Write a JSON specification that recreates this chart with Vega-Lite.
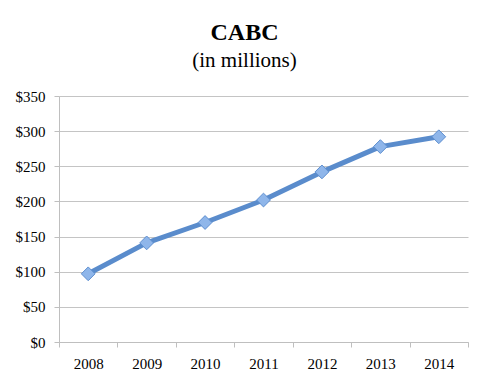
{
  "$schema": "https://vega.github.io/schema/vega-lite/v6.json",
  "width": 409,
  "height": 246,
  "autosize": {"type": "none"},
  "padding": {"left": 59, "top": 96, "right": 23, "bottom": 40},
  "background": "white",
  "title": {
    "text": "CABC",
    "subtitle": "(in millions)",
    "font": "Liberation Serif",
    "fontSize": 24,
    "fontWeight": "bold",
    "color": "black",
    "subtitleFont": "Liberation Serif",
    "subtitleFontSize": 21,
    "subtitleColor": "black",
    "subtitlePadding": 5,
    "anchor": "middle",
    "frame": "group",
    "dx": -19,
    "offset": 18
  },
  "data": {
    "values": [
      {"year": "2008", "value": 97},
      {"year": "2009", "value": 141},
      {"year": "2010", "value": 170},
      {"year": "2011", "value": 202},
      {"year": "2012", "value": 242},
      {"year": "2013", "value": 278},
      {"year": "2014", "value": 292}
    ]
  },
  "config": {
    "view": {"stroke": null},
    "axis": {
      "labelFont": "Liberation Serif",
      "labelFontSize": 15,
      "labelColor": "black",
      "domainColor": "#bfbfbf",
      "tickColor": "#bfbfbf",
      "gridColor": "#c4c4c4",
      "gridWidth": 1.2,
      "tickSize": 5,
      "labelPadding": 9,
      "title": null
    }
  },
  "encoding": {
    "x": {
      "field": "year",
      "type": "ordinal",
      "scale": {"type": "band", "paddingInner": 0, "paddingOuter": 0},
      "axis": {"labelAngle": 0, "tickBand": "extent", "grid": false, "domain": true}
    },
    "y": {
      "field": "value",
      "type": "quantitative",
      "scale": {"domain": [0, 350], "nice": false},
      "axis": {"values": [0, 50, 100, 150, 200, 250, 300, 350], "format": "$,.0f", "grid": true, "domain": true}
    }
  },
  "layer": [
    {
      "mark": {"type": "line", "color": "#5a8ccc", "strokeWidth": 5, "strokeCap": "round", "strokeJoin": "round"}
    },
    {
      "mark": {"type": "point", "shape": "diamond", "filled": true, "size": 190, "fill": "#8fb6ea", "stroke": "#5e8fd0", "strokeWidth": 1, "opacity": 1}
    }
  ]
}
